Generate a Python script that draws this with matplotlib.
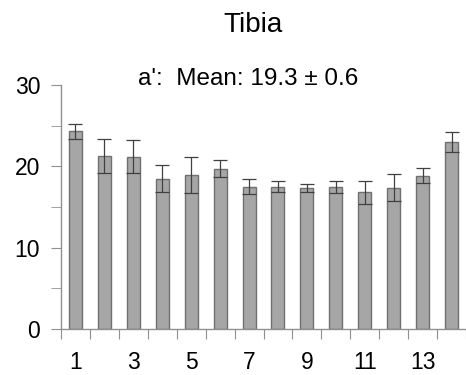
import matplotlib.pyplot as plt
import numpy as np

plt.rcParams['font.family'] = ['Liberation Sans', 'DejaVu Sans']

# bar index, mean value and error
positions = np.arange(1, 15)
means = [24.3, 21.3, 21.2, 18.5, 18.9, 19.7, 17.5, 17.5, 17.35, 17.5, 16.8, 17.35, 18.85, 23.0]
errors = [0.9, 2.1, 2.0, 1.7, 2.2, 1.05, 0.95, 0.7, 0.5, 0.75, 1.4, 1.65, 0.9, 1.25]
xlabels = ["1", "3", "5", "7", "9", "11", "13"]
xlabel_pos = [1, 3, 5, 7, 9, 11, 13]

fig = plt.figure(figsize=(4.66, 3.75), dpi=100)
ax = fig.add_axes([61 / 466, 46 / 375, 1 - 61 / 466, 244 / 375])

ax.bar(positions, means, width=0.45, color='#a6a6a6', edgecolor='#707070', linewidth=1)
# capsize is half the cap length here
ax.errorbar(positions, means, yerr=errors, fmt='none', ecolor='#404040',
            elinewidth=0.9, capsize=5, capthick=0.9)

ax.set_xlim(0.5, 14.13)
ax.set_ylim(0, 30)

for s in ['top', 'right']:
    ax.spines[s].set_visible(False)
for s in ['left', 'bottom']:
    ax.spines[s].set_color('#909090')
    ax.spines[s].set_linewidth(1)

ax.set_yticks([0, 10, 20, 30])
ax.set_yticks([5, 15, 25], minor=True)
ax.tick_params(axis='y', which='both', direction='out', length=7, color='#909090',
               labelsize=16.5, pad=8)

ax.set_xticks(np.arange(0.5, 14.6, 1))
ax.set_xticklabels([])
ax.set_xticks(xlabel_pos, xlabels, minor=True)
ax.tick_params(axis='x', which='major', direction='out', length=7, color='#909090')
ax.tick_params(axis='x', which='minor', length=0, labelsize=16.5, pad=16)

fig.text(253 / 466, 1 - 25 / 375, "Tibia", ha='center', va='center', fontsize=20)
fig.text(248 / 466, 1 - 79 / 375, "a':  Mean: 19.3 \u00b1 0.6", ha='center', va='center', fontsize=17.5)

fig.savefig("out.png", dpi=100)
